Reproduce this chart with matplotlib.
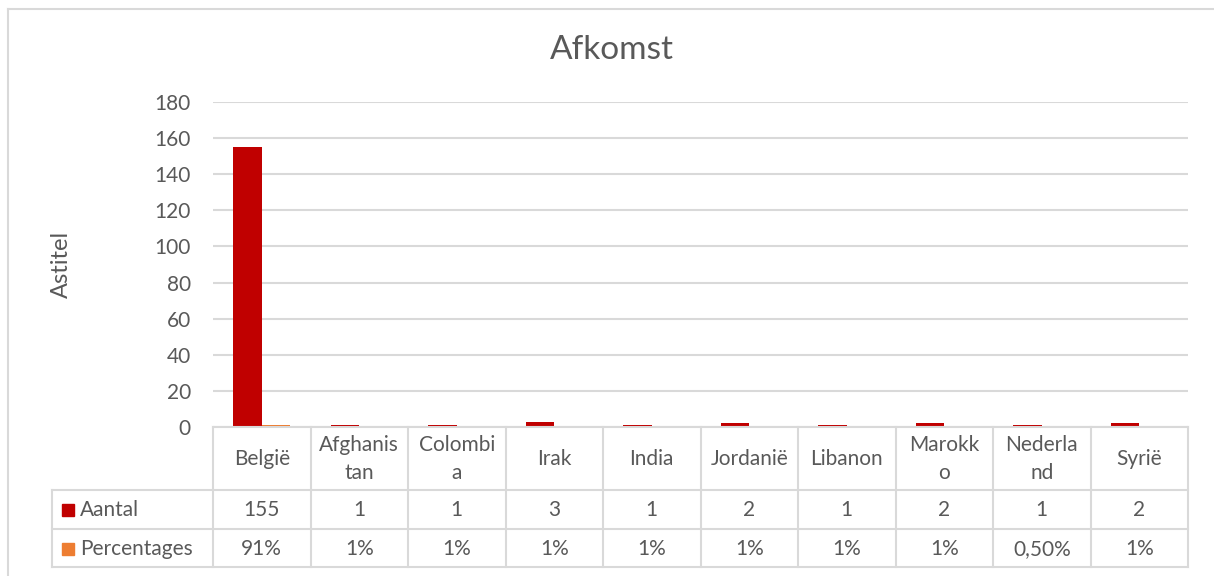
import matplotlib.pyplot as plt
from matplotlib.transforms import blended_transform_factory
from matplotlib.patches import Rectangle
from matplotlib.lines import Line2D

plt.rcParams['font.family'] = ['Lato', 'DejaVu Sans']

# data
labels = ['België', 'Afghanis\ntan', 'Colombi\na', 'Irak', 'India', 'Jordanië',
          'Libanon', 'Marokk\no', 'Nederla\nnd', 'Syrië']
aantal = [155, 1, 1, 3, 1, 2, 1, 2, 1, 2]
percentages = [0.91, 0.01, 0.01, 0.01, 0.01, 0.01, 0.01, 0.01, 0.005, 0.01]
aantal_txt = ['155', '1', '1', '3', '1', '2', '1', '2', '1', '2']
perc_txt = ['91%', '1%', '1%', '1%', '1%', '1%', '1%', '1%', '0,50%', '1%']

red = '#c00000'
orange = '#ed7d31'
grid_c = '#d9d9d9'
txt_c = '#595959'

W, H = 1214, 576
fig = plt.figure(figsize=(W / 100, H / 100), dpi=100)

def fy(py):
    return 1 - py / H

# plot area
ax = fig.add_axes([213 / W, fy(427), 975 / W, (427 - 102) / H])
x = list(range(len(labels)))
bw = 0.29
ax.bar([i - bw / 2 for i in x], aantal, width=bw, color=red, zorder=3)
ax.bar([i + bw / 2 for i in x], percentages, width=bw, color=orange, zorder=3)
ax.set_xlim(-0.5, len(labels) - 0.5)
ax.set_ylim(0, 180)
ax.set_yticks(range(0, 181, 20))
ax.yaxis.grid(True, color=grid_c, linewidth=1.5, zorder=0)
ax.tick_params(axis='y', length=0, labelsize=15, labelcolor=txt_c, pad=16)
ax.set_xticks([])
for s in ['top', 'right', 'left', 'bottom']:
    ax.spines[s].set_visible(False)

fig.text(61 / W, fy(264), 'Astitel', rotation=90, ha='center', va='center',
         fontsize=17, color=txt_c)
fig.text(612 / W, fy(50), 'Afkomst', ha='center', va='center',
         fontsize=24, color=txt_c)

# data table
tr = blended_transform_factory(ax.transData, fig.transFigure)
y_top, y_h, y_a, y_bot = fy(427), fy(490), fy(529), fy(567)
n = len(labels)
lw = 1.5
# horizontal lines
fig.add_artist(Line2D([-0.5, n - 0.5], [y_top, y_top], transform=tr, color=grid_c, lw=lw))
for yy in [y_h, y_a, y_bot]:
    fig.add_artist(Line2D([52 / W, 1188 / W], [yy, yy], transform=fig.transFigure,
                          color=grid_c, lw=lw))
# vertical lines
for i in range(n + 1):
    fig.add_artist(Line2D([i - 0.5, i - 0.5], [y_top, y_bot], transform=tr,
                          color=grid_c, lw=lw))
fig.add_artist(Line2D([52 / W, 52 / W], [y_h, y_bot], transform=fig.transFigure,
                      color=grid_c, lw=lw))

for i in range(n):
    fig.text(i, fy(459), labels[i], transform=tr, ha='center', va='center',
             fontsize=15, color=txt_c, linespacing=1.5)
    fig.text(i, fy(510), aantal_txt[i], transform=tr, ha='center', va='center',
             fontsize=15, color=txt_c)
    fig.text(i, fy(549), perc_txt[i], transform=tr, ha='center', va='center',
             fontsize=15, color=txt_c)

# legend keys
for py, c, name in [(510, red, 'Aantal'), (549, orange, 'Percentages')]:
    fig.add_artist(Rectangle((62 / W, fy(py + 6)), 12 / W, 12 / H,
                             transform=fig.transFigure, color=c))
    fig.text(80 / W, fy(py), name, ha='left', va='center', fontsize=15, color=txt_c)

# chart border
fig.add_artist(Line2D([8 / W, 8 / W], [fy(9), 0], transform=fig.transFigure,
                      color=grid_c, lw=1.5))
fig.add_artist(Line2D([8 / W, 1], [fy(9), fy(9)], transform=fig.transFigure,
                      color=grid_c, lw=1.5))

fig.savefig('out.png', dpi=100)
